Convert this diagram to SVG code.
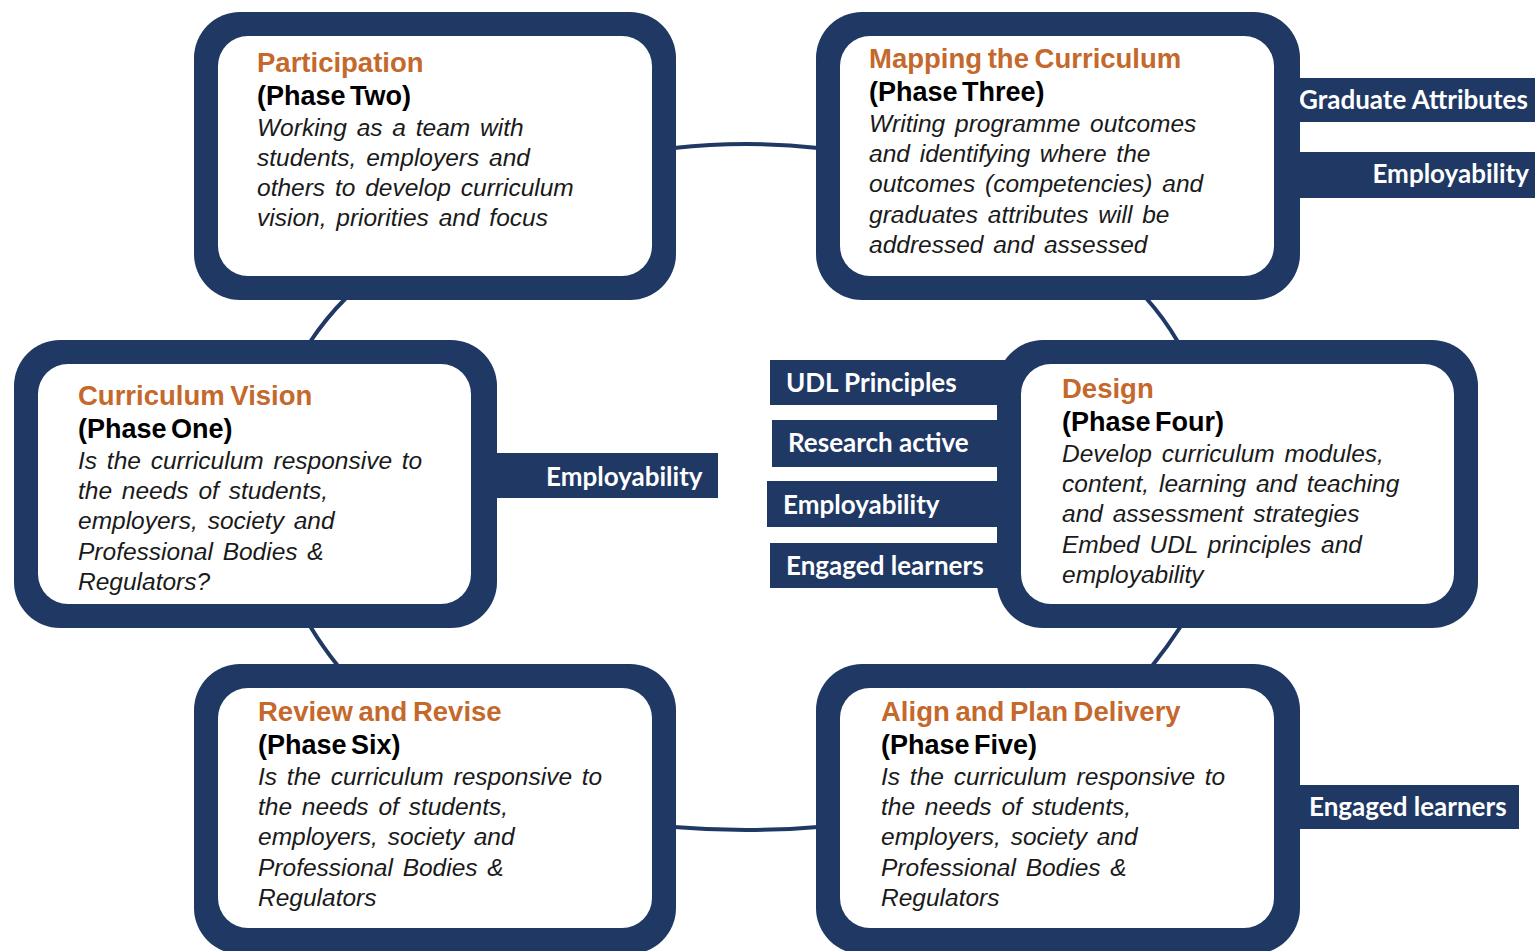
<svg xmlns="http://www.w3.org/2000/svg" width="1535" height="951" viewBox="0 0 1535 951">
<style>
.outer{fill:#1f3864}
.inner{fill:#ffffff}
.tag{fill:#1f3864}
.tagt{font-family:Lato,"Open Sans",sans-serif;font-weight:700;font-size:26px;fill:#ffffff}
.title{font-family:"Liberation Sans",Arial,sans-serif;font-weight:700;font-size:27.5px;fill:#c4682c;word-spacing:-2px}
.phase{font-family:"Liberation Sans",Arial,sans-serif;font-weight:700;font-size:27px;fill:#000000;word-spacing:-3px}
.body{font-family:"Liberation Sans",Arial,sans-serif;font-style:italic;font-size:24.5px;fill:#1a1a1a;word-spacing:3px}
.conn{fill:none;stroke:#1f3864;stroke-width:4}
</style>
<rect width="1535" height="951" fill="#ffffff"/>
<g id="connectors">
<path class="conn" d="M674,148 Q746,140 818,148"/>
<path class="conn" d="M674,827 Q746,833 818,827"/>
<path class="conn" d="M346,298 Q326,318 310,342"/>
<path class="conn" d="M1146,298 Q1164,318 1178,342"/>
<path class="conn" d="M310,626 Q322,646 338,666"/>
<path class="conn" d="M1181,626 Q1168,646 1152,666"/>
</g>
<g id="tags">
<g id="tag-graduate-attributes"><rect class="tag" x="1290" y="78" width="245" height="44"/><text class="tagt" x="1299" y="109">Graduate Attributes</text></g>
<g id="tag-employability-top"><rect class="tag" x="1290" y="152" width="245" height="46"/><text class="tagt" x="1529" y="183" text-anchor="end">Employability</text></g>
<g id="tag-employability-left"><rect class="tag" x="490" y="453" width="228" height="45"/><text class="tagt" x="546" y="486">Employability</text></g>
<g id="tag-udl"><rect class="tag" x="770" y="360" width="235" height="45"/><text class="tagt" x="786" y="392">UDL Principles</text></g>
<g id="tag-research"><rect class="tag" x="772" y="420" width="233" height="47"/><text class="tagt" x="788" y="452">Research active</text></g>
<g id="tag-employability-mid"><rect class="tag" x="767" y="481" width="238" height="46"/><text class="tagt" x="783" y="514">Employability</text></g>
<g id="tag-engaged-mid"><rect class="tag" x="770" y="543" width="235" height="45"/><text class="tagt" x="786" y="575">Engaged learners</text></g>
<g id="tag-engaged-bottom"><rect class="tag" x="1290" y="785" width="229" height="44"/><text class="tagt" x="1309" y="816">Engaged learners</text></g>
</g>
<g id="node-phase-two">
<rect class="outer" x="194" y="12" width="482" height="288" rx="46"/>
<rect class="inner" x="218" y="36" width="434" height="240" rx="30"/>
<text class="title" x="257" y="72">Participation</text>
<text class="phase" x="257" y="105">(Phase Two)</text>
<text class="body" x="257" y="136">Working as a team with</text>
<text class="body" x="257" y="166">students, employers and</text>
<text class="body" x="257" y="196">others to develop curriculum</text>
<text class="body" x="257" y="226">vision, priorities and focus</text>
</g>
<g id="node-phase-three">
<rect class="outer" x="816" y="12" width="484" height="288" rx="46"/>
<rect class="inner" x="840" y="36" width="434" height="240" rx="30"/>
<text class="title" x="869" y="68">Mapping the Curriculum</text>
<text class="phase" x="869" y="101">(Phase Three)</text>
<text class="body" x="869" y="132">Writing programme outcomes</text>
<text class="body" x="869" y="162">and identifying where the</text>
<text class="body" x="869" y="192">outcomes (competencies) and</text>
<text class="body" x="869" y="223">graduates attributes will be</text>
<text class="body" x="869" y="253">addressed and assessed</text>
</g>
<g id="node-phase-one">
<rect class="outer" x="14" y="340" width="483" height="288" rx="46"/>
<rect class="inner" x="38" y="364" width="433" height="240" rx="30"/>
<text class="title" x="78" y="405">Curriculum Vision</text>
<text class="phase" x="78" y="438">(Phase One)</text>
<text class="body" x="78" y="469">Is the curriculum responsive to</text>
<text class="body" x="78" y="499">the needs of students,</text>
<text class="body" x="78" y="529">employers, society and</text>
<text class="body" x="78" y="560">Professional Bodies &amp;</text>
<text class="body" x="78" y="590">Regulators?</text>
</g>
<g id="node-phase-four">
<rect class="outer" x="997" y="340" width="481" height="288" rx="46"/>
<rect class="inner" x="1021" y="364" width="433" height="240" rx="30"/>
<text class="title" x="1062" y="398">Design</text>
<text class="phase" x="1062" y="431">(Phase Four)</text>
<text class="body" x="1062" y="462">Develop curriculum modules,</text>
<text class="body" x="1062" y="492">content, learning and teaching</text>
<text class="body" x="1062" y="522">and assessment strategies</text>
<text class="body" x="1062" y="553">Embed UDL principles and</text>
<text class="body" x="1062" y="583">employability</text>
</g>
<g id="node-phase-six">
<rect class="outer" x="194" y="664" width="482" height="290" rx="46"/>
<rect class="inner" x="218" y="688" width="434" height="240" rx="30"/>
<text class="title" x="258" y="721">Review and Revise</text>
<text class="phase" x="258" y="754">(Phase Six)</text>
<text class="body" x="258" y="785">Is the curriculum responsive to</text>
<text class="body" x="258" y="815">the needs of students,</text>
<text class="body" x="258" y="845">employers, society and</text>
<text class="body" x="258" y="876">Professional Bodies &amp;</text>
<text class="body" x="258" y="906">Regulators</text>
</g>
<g id="node-phase-five">
<rect class="outer" x="816" y="664" width="484" height="290" rx="46"/>
<rect class="inner" x="840" y="688" width="434" height="240" rx="30"/>
<text class="title" x="881" y="721">Align and Plan Delivery</text>
<text class="phase" x="881" y="754">(Phase Five)</text>
<text class="body" x="881" y="785">Is the curriculum responsive to</text>
<text class="body" x="881" y="815">the needs of students,</text>
<text class="body" x="881" y="845">employers, society and</text>
<text class="body" x="881" y="876">Professional Bodies &amp;</text>
<text class="body" x="881" y="906">Regulators</text>
</g>
</svg>
